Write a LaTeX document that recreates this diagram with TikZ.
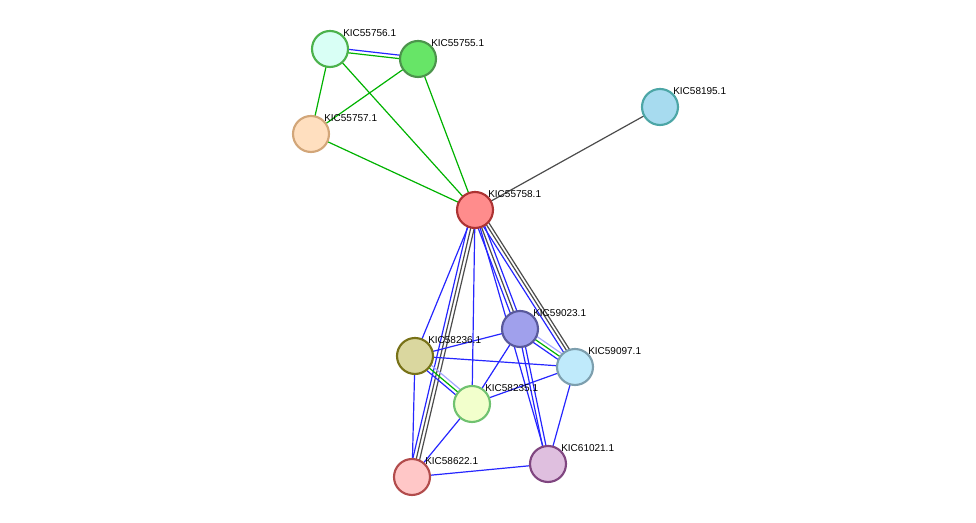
\documentclass[tikz,border=0pt]{standalone}
\usepackage{fontspec}
\setmainfont{Liberation Sans}
\usetikzlibrary{calc,backgrounds}
\begin{document}
\begin{tikzpicture}[x=0.75pt,y=-0.75pt,
  prot/.style={circle,minimum size=27pt,inner sep=0pt,line width=1.6pt},
  lab/.style={anchor=south west,inner sep=0pt,font=\fontsize{7.5}{8}\selectfont,text=black},
  e/.style={line width=0.9pt}]
\useasboundingbox (0,0) rectangle (976,523);
\colorlet{eb}{blue!85!white}
\colorlet{eg}{green!70!black}
\colorlet{ek}{black!70}
\colorlet{el}{blue!35!white}
\def\nd#1#2#3#4#5#6{\node[prot,fill=#4,draw=#5] (#1) at (#2,#3) {};
  \node[lab] (l#1) at ($(#1)+(13,-12)$) {#6};}
\nd{a}{330}{49}{green!25!cyan!15!white}{green!40!gray}{KIC55756.1}
\nd{b}{418}{59}{green!55!white!90!black}{green!40!black!70}{KIC55755.1}
\nd{c}{311}{134}{orange!25!white}{brown!70!white}{KIC55757.1}
\nd{d}{660}{107}{cyan!35!white!90!gray}{teal!70!white}{KIC58195.1}
\nd{m}{475}{210}{red!45!white}{red!60!black!80}{KIC55758.1}
\nd{f}{520}{329}{blue!35!white!85!gray}{blue!40!black!65}{KIC59023.1}
\nd{g}{575}{367}{cyan!25!white}{cyan!30!gray}{KIC59097.1}
\nd{h}{415}{356}{yellow!45!gray!60!white}{olive!80!black}{KIC58236.1}
\nd{i}{472}{404}{green!25!yellow!20!white}{green!40!gray!80}{KIC58235.1}
\nd{j}{412}{477}{red!22!white}{red!40!gray}{KIC58622.1}
\nd{k}{548}{464}{violet!25!white}{violet!45!gray}{KIC61021.1}
\def\ed#1#2#3#4{\draw[e,#3] ($(#1)!#4!90:(#2)$) -- ($(#2)!#4!-90:(#1)$);}
\begin{scope}[on background layer]
\ed{a}{b}{eb}{1.3pt}\ed{a}{b}{eg}{-1.3pt}
\ed{a}{c}{eg}{0pt}\ed{a}{m}{eg}{0pt}\ed{b}{c}{eg}{0pt}\ed{b}{m}{eg}{0pt}\ed{c}{m}{eg}{0pt}
\ed{d}{m}{ek}{0pt}
\ed{m}{h}{eb}{0pt}
\ed{m}{j}{eb}{-2.6pt}\ed{m}{j}{ek}{0pt}\ed{m}{j}{ek}{2.6pt}
\ed{m}{i}{eb}{0pt}
\ed{m}{f}{eb}{-2.6pt}\ed{m}{f}{ek}{0pt}\ed{m}{f}{eb}{2.6pt}
\ed{m}{g}{eb}{-1.3pt}\ed{m}{g}{ek}{1.3pt}\ed{m}{g}{ek}{3.6pt}
\ed{m}{k}{eb}{0pt}
\ed{f}{h}{eb}{0pt}
\ed{f}{g}{eb}{-2.6pt}\ed{f}{g}{eg}{0pt}\ed{f}{g}{el}{2.6pt}
\ed{f}{i}{eb}{0pt}
\ed{f}{k}{eb}{-1.3pt}\ed{f}{k}{eb}{1.3pt}
\ed{h}{g}{eb}{0pt}
\ed{h}{i}{eb}{-2.6pt}\ed{h}{i}{eg}{0pt}\ed{h}{i}{el}{2.6pt}
\ed{h}{j}{eb}{0pt}
\ed{i}{g}{eb}{0pt}\ed{i}{j}{eb}{0pt}
\ed{j}{k}{eb}{0pt}\ed{g}{k}{eb}{0pt}
\end{scope}
\end{tikzpicture}
\end{document}
